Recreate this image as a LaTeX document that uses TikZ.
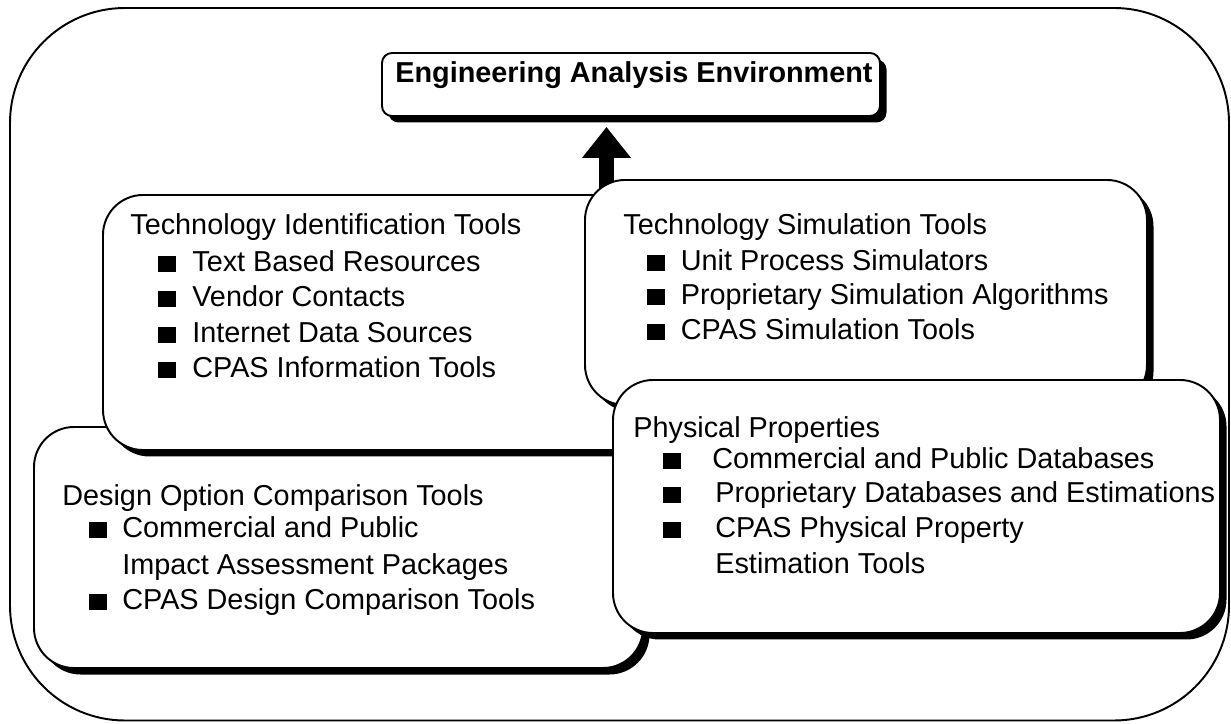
\documentclass[tikz,border=0pt]{standalone}
\usepackage{fontspec}
\setmainfont{Liberation Sans}
\usetikzlibrary{shadows,arrows.meta}

\begin{document}
\begin{tikzpicture}[
	panel/.style={draw, line width=1.1pt, fill=white, rounded corners=0.8cm,
		drop shadow={shadow xshift=0.13cm, shadow yshift=-0.13cm, fill=black, opacity=1}},
	lbl/.style={anchor=base west, inner sep=0pt, font=\fontsize{16.4}{19}\selectfont},
	hdr/.style={lbl, font=\fontsize{16.4}{19}\selectfont\bfseries},
	blt/.style={anchor=south west, fill=black, inner sep=0pt, minimum width=0.36cm, minimum height=0.32cm},
	uparrow/.style={line width=0.3cm, -{Triangle[width=0.94cm,length=0.62cm]}}
]
	%\draw[help lines] (0,0) grid (25,15);
	\useasboundingbox (0,0) rectangle (24.62,14.46);
	\node[draw, line width=1.1pt, rounded corners=2.3cm, minimum width=24.38cm, minimum height=14.25cm] (frame) at (12.39,7.175) {};
	\node[panel, rounded corners=0.2cm, minimum width=9.96cm, minimum height=1.26cm] (eae) at (12.62,12.77) {};
	\node[hdr] (eae-h) at (7.9,12.8) {Engineering Analysis Environment};
	\coordinate (foot) at (12.13,10.3);
	\draw[uparrow, shorten >=0.2cm] (foot) -- (foot |- eae.south);
	\node[panel, minimum width=12.18cm, minimum height=4.82cm] (doc) at (6.77,3.51) {};
	\node[panel, minimum width=11.54cm, minimum height=5.1cm] (tit) at (7.83,8.01) {};
	\node[panel, minimum width=11.24cm, minimum height=4.5cm] (tst) at (17.32,8.61) {};
	\node[panel, minimum width=12.14cm, minimum height=5.06cm] (pp) at (18.33,4.33) {};
	% identification
	\node[lbl] (tit-h) at (2.6,9.76) {Technology Identification Tools};
	\node[blt] (tit-b1) at (3.16,9.02) {};
	\node[blt] (tit-b2) at (3.16,8.32) {};
	\node[blt] (tit-b3) at (3.16,7.6) {};
	\node[blt] (tit-b4) at (3.16,6.9) {};
	\node[lbl] (tit-1) at (3.84,9.02) {Text Based Resources};
	\node[lbl] (tit-2) at (3.84,8.32) {Vendor Contacts};
	\node[lbl] (tit-3) at (3.84,7.6) {Internet Data Sources};
	\node[lbl] (tit-4) at (3.84,6.9) {CPAS Information Tools};
	% simulation
	\node[lbl] (tst-h) at (12.46,9.76) {Technology Simulation Tools};
	\node[blt] (tst-b1) at (12.94,9.04) {};
	\node[blt] (tst-b2) at (12.94,8.36) {};
	\node[blt] (tst-b3) at (12.94,7.66) {};
	\node[lbl] (tst-1) at (13.61,9.04) {Unit Process Simulators};
	\node[lbl] (tst-2) at (13.61,8.36) {Proprietary Simulation Algorithms};
	\node[lbl] (tst-3) at (13.61,7.66) {CPAS Simulation Tools};
	% design options
	\node[lbl] (doc-h) at (1.24,4.34) {Design Option Comparison Tools};
	\node[blt] (doc-b1) at (1.78,3.7) {};
	\node[blt] (doc-b2) at (1.78,2.26) {};
	\node[lbl] (doc-1) at (2.44,3.7) {Commercial and Public};
	\node[lbl] (doc-1b) at (2.44,2.96) {Impact Assessment Packages};
	\node[lbl] (doc-2) at (2.44,2.26) {CPAS Design Comparison Tools};
	% properties
	\node[lbl] (pp-h) at (12.66,5.7) {Physical Properties};
	\node[blt] (pp-b1) at (13.26,5.08) {};
	\node[blt] (pp-b2) at (13.26,4.4) {};
	\node[blt] (pp-b3) at (13.26,3.7) {};
	\node[lbl] (pp-1) at (14.24,5.08) {Commercial and Public Databases};
	\node[lbl] (pp-2) at (14.3,4.4) {Proprietary Databases and Estimations};
	\node[lbl] (pp-3) at (14.3,3.7) {CPAS Physical Property};
	\node[lbl] (pp-3b) at (14.3,2.98) {Estimation Tools};
\end{tikzpicture}
\end{document}
